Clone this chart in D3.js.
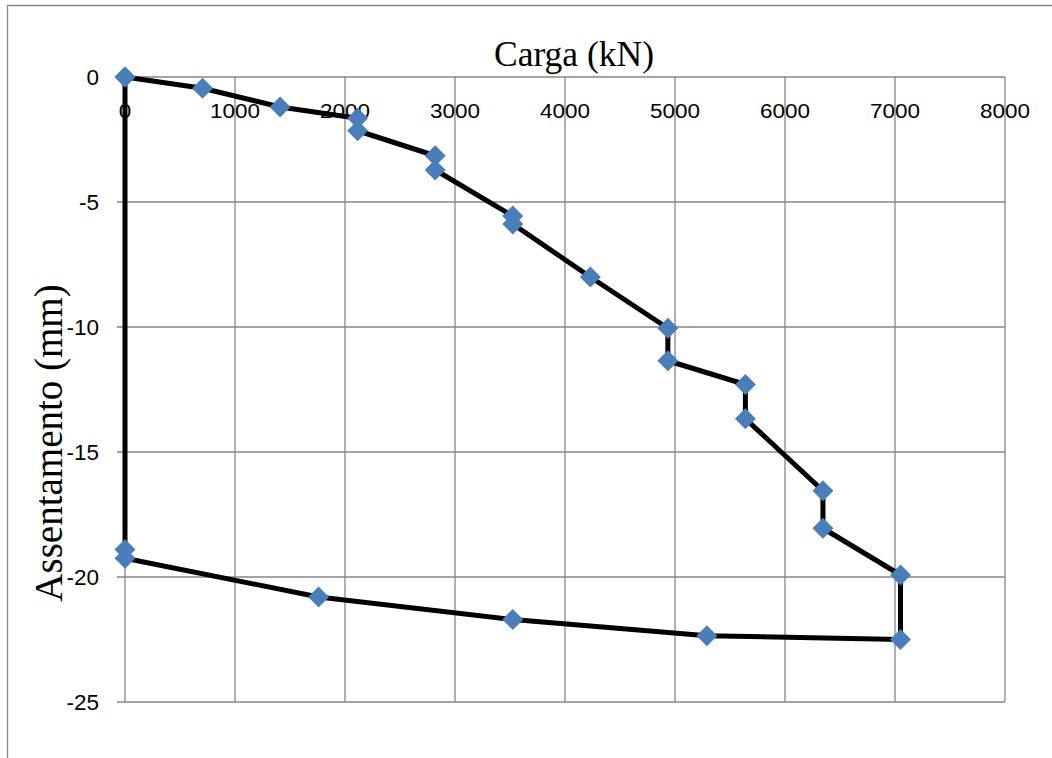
<!DOCTYPE html>
<html>
<head>
<meta charset="utf-8">
<script src="https://cdn.jsdelivr.net/npm/d3@7"></script>
<style>
  body { margin: 0; background: #fff; }
</style>
</head>
<body>
<div id="chart"></div>
<script>
// carga (kN) x assentamento (mm), loading then unloading
const carga = [0, 705, 1410, 2115, 2115, 2820, 2820, 3525, 3525, 4230, 4935, 4935,
  5640, 5640, 6345, 6345, 7050, 7050, 5290, 3525, 1760, 0, 0, 0];
const assentamento = [0, -0.45, -1.2, -1.65, -2.15, -3.15, -3.72, -5.56, -5.88, -8.0, -10.05, -11.35,
  -12.3, -13.67, -16.55, -18.05, -19.92, -22.5, -22.35, -21.7, -20.8, -19.25, -18.9, 0];
const xTicks = [0, 1000, 2000, 3000, 4000, 5000, 6000, 7000, 8000];
const yTicks = [0, -5, -10, -15, -20, -25];

const W = 1052, H = 758;
const gridColor = '#868686';

const svg = d3.select('#chart')
  .append('svg')
  .attr('width', W)
  .attr('height', H);

// outer chart border (only top and left visible)
svg.append('path')
  .attr('d', 'M7.5,' + H + 'V5.5H' + W)
  .attr('fill', 'none')
  .attr('stroke', gridColor)
  .attr('stroke-width', 1.3);

const x = d3.scaleLinear().domain([0, 8000]).range([125, 1005]);
const y = d3.scaleLinear().domain([0, -25]).range([77, 702]);

// gridlines
svg.append('g')
  .selectAll('line.h')
  .data(yTicks)
  .join('line')
  .attr('x1', 117).attr('x2', x(8000))
  .attr('y1', d => y(d)).attr('y2', d => y(d))
  .attr('stroke', gridColor)
  .attr('stroke-width', 1.3);

svg.append('g')
  .selectAll('line.v')
  .data(xTicks)
  .join('line')
  .attr('x1', d => x(d)).attr('x2', d => x(d))
  .attr('y1', y(0)).attr('y2', y(-25))
  .attr('stroke', gridColor)
  .attr('stroke-width', 1.3);

// tick labels
svg.append('g')
  .selectAll('text')
  .data(xTicks)
  .join('text')
  .attr('x', d => x(d))
  .attr('y', 118)
  .attr('text-anchor', 'middle')
  .attr('font-family', 'Liberation Sans, Arial, sans-serif')
  .attr('font-size', 22.5)
  .attr('transform', d => 'translate(' + x(d) + ',118) scale(1,0.9) translate(' + (-x(d)) + ',-118)')
  .text(d => d);

svg.append('g')
  .selectAll('text')
  .data(yTicks)
  .join('text')
  .attr('x', 99)
  .attr('y', d => y(d))
  .attr('dy', '0.36em')
  .attr('text-anchor', 'end')
  .attr('font-family', 'Liberation Sans, Arial, sans-serif')
  .attr('font-size', 22.5)
  .text(d => d);

// series
const pts = carga.map((c, i) => [c, assentamento[i]]);

svg.append('path')
  .datum(pts)
  .attr('fill', 'none')
  .attr('stroke', '#000')
  .attr('stroke-width', 5)
  .attr('stroke-linejoin', 'round')
  .attr('d', d3.line().x(d => x(d[0])).y(d => y(d[1])));

const sym = d3.symbol().type(d3.symbolSquare).size(220);
svg.append('g')
  .selectAll('path')
  .data(pts)
  .join('path')
  .attr('transform', d => 'translate(' + x(d[0]) + ',' + y(d[1]) + ') rotate(45)')
  .attr('d', sym)
  .attr('fill', '#4A7EBB');

// axis titles
svg.append('text')
  .attr('x', 574)
  .attr('y', 66)
  .attr('text-anchor', 'middle')
  .attr('font-family', 'Liberation Serif, Times New Roman, serif')
  .attr('font-size', 35.5)
  .text('Carga (kN)');

svg.append('text')
  .attr('transform', 'translate(62,443) rotate(-90)')
  .attr('text-anchor', 'middle')
  .attr('font-family', 'Liberation Serif, Times New Roman, serif')
  .attr('font-size', 39)
  .text('Assentamento (mm)');
</script>
</body>
</html>
